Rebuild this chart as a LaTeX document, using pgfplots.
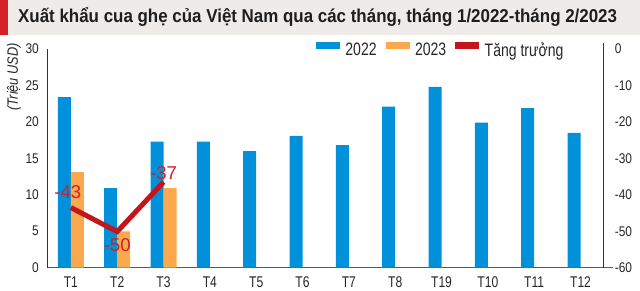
\documentclass[border=0pt]{standalone}
\usepackage{fontspec}
\setmainfont{Liberation Sans}[FakeStretch=0.85]
\newfontfamily\titlefont{Liberation Sans}[FakeStretch=0.91]
\newfontfamily\condfont{Liberation Sans}[FakeStretch=0.78]
\newfontfamily\plainfont{Liberation Sans}
\usepackage{pgfplots}
\pgfplotsset{compat=1.18}
\definecolor{cA}{HTML}{0091DA}
\definecolor{cB}{HTML}{FBA94C}
\definecolor{cR}{HTML}{C3161C}
\definecolor{lblred}{HTML}{D0202A}
\definecolor{bandgray}{HTML}{EEEBE9}
\definecolor{stripred}{HTML}{D42027}
\definecolor{titlecol}{HTML}{1E1E1E}
\definecolor{axgray}{HTML}{5A5A5A}
\definecolor{axdark}{HTML}{333333}
\begin{document}
\begin{tikzpicture}
\useasboundingbox (0bp,0bp) rectangle (640bp,291bp);
\fill[bandgray] (0bp,256bp) rectangle (640bp,291bp);
\fill[stripred] (0bp,256bp) rectangle (8bp,291bp);
\node[anchor=base west, inner sep=0pt, text=titlecol, font=\titlefont\bfseries\fontsize{18.6bp}{20bp}\selectfont] at (18bp,268.3bp) {Xuất khẩu cua ghẹ của Việt Nam qua các tháng, tháng 1/2022-tháng 2/2023};
\begin{axis}[
  at={(47.7bp,23.3bp)}, anchor=south west, scale only axis,
  width=556bp, height=218.7bp,
  xmin=-0.5, xmax=11.5, ymin=0, ymax=30,
  xtick={0,...,11},
  xticklabels={T1,T2,T3,T4,T5,T6,T7,T8,T19,T10,T11,T12},
  ytick={0,5,...,30},
  axis x line*=bottom, axis y line*=left,
  major tick length=0pt,
  tick label style={font=\fontsize{14bp}{16bp}\selectfont, inner sep=0pt, text=black!85},
  yticklabel style={xshift=-8.7bp},
  xticklabel style={yshift=-8.8bp, font=\condfont\fontsize{15.5bp}{17bp}\selectfont},
  x axis line style={draw=axgray, line width=1bp, shorten >=-9bp},
  y axis line style={draw=axdark, line width=0.8bp},
  /pgf/number format/assume math mode=true,
  ylabel={\itshape (Triệu USD)},
  ylabel style={at={(axis description cs:-0.0606,1.0274)}, anchor=east, inner sep=0pt, font=\fontsize{15bp}{17bp}\selectfont, text=black!85},
  clip=false,
]
\addplot[ybar, bar width=13bp, bar shift=-6.5bp, fill=cA, draw=none] coordinates {
(0,23.4) (1,10.9) (2,17.3) (3,17.3) (4,16.0) (5,18.1) (6,16.8) (7,22.1) (8,24.8) (9,19.9) (10,21.9) (11,18.5)};
\addplot[ybar, bar width=13bp, bar shift=6.5bp, fill=cB, draw=none] coordinates {
(0,13.1) (1,5.0) (2,10.9)};
\end{axis}
\begin{axis}[
  at={(47.7bp,23.3bp)}, anchor=south west, scale only axis,
  width=556bp, height=218.7bp,
  xmin=-0.5, xmax=11.5, ymin=-60, ymax=0,
  axis x line=none, axis y line*=right,
  ytick={-60,-50,-40,-30,-20,-10,0},
  yticklabels={-60,-50,-40,-30,-20,-10,0},
  major tick length=0pt,
  yticklabel style={font=\fontsize{14bp}{16bp}\selectfont, inner sep=0pt, xshift=11bp, text=black!85},
  y axis line style={draw=axdark, line width=0.8bp, shorten >=-6bp},
  clip=false,
  legend style={at={(axis description cs:0.4826,0.997)}, anchor=west, draw=none, fill=none, inner sep=0pt, outer sep=0pt,
    font=\condfont\fontsize{18bp}{20bp}\selectfont, nodes={inner sep=0pt, text=black!85}, legend columns=3,
    /tikz/every odd column/.append style={column sep=6bp},
    /tikz/every even column/.append style={column sep=9bp}},
]
\addlegendimage{legend image code/.code={\fill[cA] (0bp,1.4bp) rectangle (23bp,8bp);}}
\addlegendentry{2022}
\addlegendimage{legend image code/.code={\fill[cB] (0bp,1.4bp) rectangle (23bp,8bp);}}
\addlegendentry{2023}
\addlegendimage{legend image code/.code={\fill[cR] (0bp,1.4bp) rectangle (23bp,8bp);}}
\addlegendentry{Tăng trưởng}
\addplot[cR, line width=5bp, mark=none, forget plot] coordinates {(0,-43.5) (1,-50.1) (2,-36.5)};
\addplot[draw=none, mark=none, forget plot, point meta=explicit symbolic, nodes near coords,
  nodes near coords style={anchor=south, inner sep=0pt, yshift=8.3bp, xshift=-3bp, text=lblred, font=\plainfont\fontsize{18.6bp}{20bp}\selectfont}]
  coordinates {(0,-43.5) [-43]};
\addplot[draw=none, mark=none, forget plot, point meta=explicit symbolic, nodes near coords,
  nodes near coords style={anchor=north, inner sep=0pt, yshift=-6.6bp, text=lblred, font=\plainfont\fontsize{18.6bp}{20bp}\selectfont}]
  coordinates {(1,-50.1) [-50]};
\addplot[draw=none, mark=none, forget plot, point meta=explicit symbolic, nodes near coords,
  nodes near coords style={anchor=south, inner sep=0pt, yshift=1.7bp, text=lblred, font=\plainfont\fontsize{18.6bp}{20bp}\selectfont}]
  coordinates {(2,-36.5) [-37]};
\end{axis}
\end{tikzpicture}
\end{document}
